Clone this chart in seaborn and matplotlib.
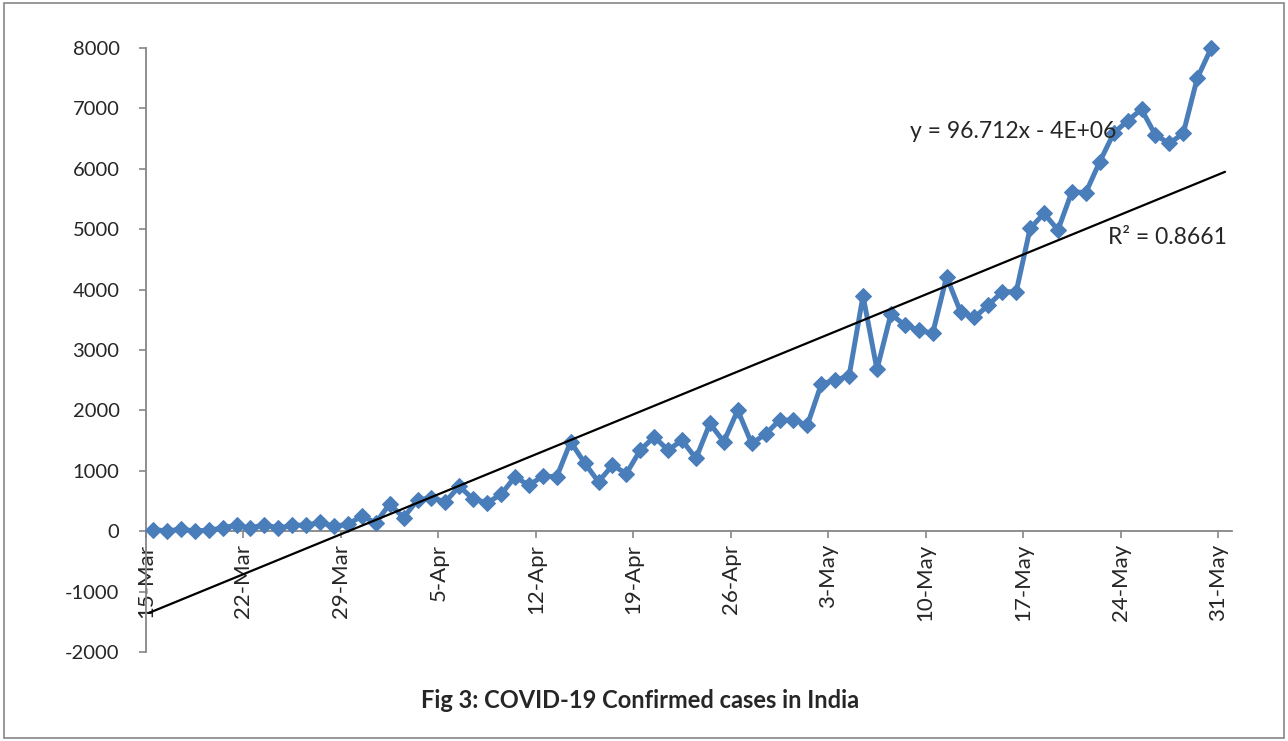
"""Fig 3: COVID-19 confirmed cases in India, daily series with linear trend."""
import matplotlib
matplotlib.use("Agg")
import matplotlib.dates as mdates
import matplotlib.pyplot as plt
import matplotlib.ticker as mticker
import numpy as np
import pandas as pd
import seaborn as sns
from matplotlib.patches import Rectangle

# daily confirmed cases, 15-Mar .. 30-May
cases = [
    28, 5, 30, 5, 15, 55, 100, 50, 110, 50,
    100, 100, 145, 80, 115, 250, 140, 450, 225, 515,
    555, 485, 745, 530, 470, 608, 900, 762, 911, 900,
    1480, 1130, 817, 1093, 955, 1342, 1562, 1342, 1507, 1204,
    1784, 1480, 2004, 1452, 1607, 1838, 1838, 1756, 2435, 2501,
    2572, 3898, 2678, 3594, 3412, 3329, 3274, 4212, 3633, 3539,
    3743, 3964, 3964, 5013, 5262, 4986, 5620, 5604, 6117, 6587,
    6796, 6984, 6559, 6421, 6587, 7498, 7995,
]
start_date = "2020-03-15"
tick_dates = pd.date_range("2020-03-15", "2020-05-31", freq="7D")
y_ticks = list(range(-2000, 8001, 1000))
equation_label = "y = 96.712x - 4E+06"
r2_label = "R² = 0.8661"
title = "Fig 3: COVID-19 Confirmed cases in India"

W, H = 1288, 741
LINE_BLUE = "#4A7EBB"
GREY = "#868686"

sns.set_style("white")
plt.rcParams["font.family"] = ["Lato", "DejaVu Sans"]

# points sit in the middle of each day slot, like Excel's date axis
dates = pd.date_range(start_date, periods=len(cases), freq="D") + pd.Timedelta(hours=12)
df = pd.DataFrame({"fecha": dates, "casos": cases})

fig = plt.figure(figsize=(W / 100, H / 100), dpi=100)
ax = fig.add_axes([146 / W, 1 - 652 / H, (1232 - 146) / W, (652 - 48) / H])

sns.lineplot(
    data=df, x="fecha", y="casos", ax=ax,
    color=LINE_BLUE, linewidth=3.6, marker="D", markersize=8.5,
    markeredgecolor=LINE_BLUE, markerfacecolor=LINE_BLUE, zorder=3,
    clip_on=False,
)

# linear trend fitted on the series
xnum = mdates.date2num(df["fecha"])
slope, intercept = np.polyfit(xnum, df["casos"], 1)
xt = np.array([xnum[0] - 0.3, xnum[-1] + 1.0])
ax.plot(xt, slope * xt + intercept, color="black", linewidth=1.6, zorder=4)

ax.set_xlim(mdates.date2num(tick_dates[0]), mdates.date2num(tick_dates[-1]) + 1)
ax.set_ylim(y_ticks[0], y_ticks[-1])
ax.set_yticks(y_ticks)
ax.set_xticks(tick_dates)
ax.xaxis.set_major_formatter(mdates.DateFormatter("%-d-%b"))
ax.yaxis.set_major_formatter(mticker.FuncFormatter(lambda v, _: f"{int(v)}"))

for side in ("top", "right"):
    ax.spines[side].set_visible(False)
ax.spines["bottom"].set_position(("data", 0))
for side in ("left", "bottom"):
    ax.spines[side].set_color(GREY)
    ax.spines[side].set_linewidth(1.3)

ax.tick_params(axis="y", direction="out", length=5, width=1.2, color=GREY,
               labelsize=14.5, pad=14, left=True)
ax.tick_params(axis="x", direction="out", length=5, width=1.2, color=GREY,
               labelsize=16, pad=4, bottom=True, labelrotation=90)
for lab in ax.get_xticklabels():
    lab.set_va("top")
ax.set_xlabel("")
ax.set_ylabel("")
ax.grid(False)

fig.text(910 / W, 1 - 132 / H, equation_label, fontsize=16.5, va="center", ha="left")
fig.text(1108 / W, 1 - 238 / H, r2_label, fontsize=16.5, va="center", ha="left")
fig.text(640 / W, 1 - 700 / H, title, fontsize=17, fontweight="bold", ha="center", va="center")

fig.patches.append(Rectangle((4 / W, 3 / H), (1284 - 4) / W, (738 - 3) / H,
                             transform=fig.transFigure, fill=False,
                             edgecolor=GREY, linewidth=1.2))

fig.savefig("out.png", dpi=100)
